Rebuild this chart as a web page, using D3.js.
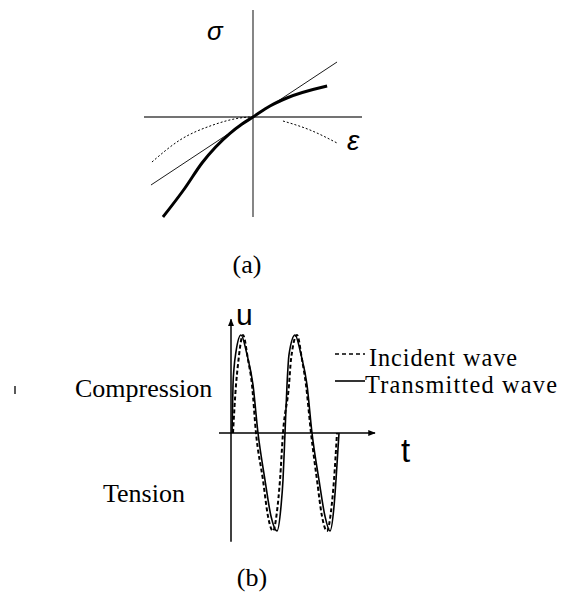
<!DOCTYPE html>
<html>
<head>
<meta charset="utf-8">
<script src="https://cdn.jsdelivr.net/npm/d3@7"></script>
<style>
  body { margin: 0; background: #fff; }
  svg { display: block; }
</style>
</head>
<body>
<div id="chart"></div>
<script>
// panel (a): stress-strain sketch, values in (eps, sigma) units
const epsAxis = [-1, 1]
const sigAxis = [-1, 1.07]
const linearLine = [[-0.936, -0.68], [0.771, 0.55]]
const thickCurve = [[-0.826, -1.0], [-0.624, -0.71], [-0.468, -0.46], [-0.211, -0.163], [-0.1, -0.07], [0, 0], [0.156, 0.11], [0.31, 0.19], [0.68, 0.31]]
const dottedLeft = [[-0.927, -0.45], [-0.67, -0.23], [-0.367, -0.08], [-0.12, -0.01], [-0.03, 0]]
const dottedRight = [[0.275, -0.04], [0.523, -0.13], [0.771, -0.26]]

// panel (b): waves, values in (t, u) units
const tAxis = [-1.2, 14.4]
const uAxis = [-1.11, 1.16]
const transmitted = [[0.1, 0], [0.2, 0.49], [0.3, 0.66], [0.5, 0.83], [1.0, 1], [1.6, 0.8], [2.2, 0.49], [2.7, 0],
  [3.4, -0.48], [4.0, -0.85], [4.6, -1], [5.0, -0.75], [5.2, -0.48], [5.4, 0], [5.6, 0.49], [5.8, 0.8],
  [6.4, 1], [7.0, 0.8], [7.6, 0.49], [8.1, 0], [8.8, -0.48], [9.4, -0.85], [9.9, -1], [10.3, -0.75], [10.5, -0.48], [10.8, 0]]
const incident = [[0.2, 0], [0.5, 0.49], [0.7, 0.7], [1.2, 1], [1.7, 0.75], [2.1, 0.49], [2.5, 0],
  [3.2, -0.48], [3.7, -0.85], [4.2, -1], [4.6, -0.8], [4.9, -0.48], [5.2, 0], [5.8, 0.49], [6.0, 0.75],
  [6.6, 1], [7.1, 0.75], [7.5, 0.49], [8.0, 0], [8.6, -0.48], [9.1, -0.85], [9.6, -1], [10.0, -0.8], [10.3, -0.48], [10.6, 0]]
const legendItems = ["Incident wave", "Transmitted wave"]

const width = 567, height = 599
const svg = d3.select("#chart").append("svg")
  .attr("width", width).attr("height", height)

const serif = "'Liberation Serif', 'Times New Roman', serif"
const sans = "'Liberation Sans', Arial, sans-serif"

// ---- (a)
const xA = d3.scaleLinear().domain([-1, 1]).range([144, 362])
const yA = d3.scaleLinear().domain([-1, 1]).range([217, 17])
const lineA = d3.line().x(d => xA(d[0])).y(d => yA(d[1]))

const gA = svg.append("g")
gA.append("line")
  .attr("x1", xA(epsAxis[0])).attr("x2", xA(epsAxis[1]))
  .attr("y1", yA(0)).attr("y2", yA(0))
  .attr("stroke", "#444").attr("stroke-width", 1.3)
gA.append("line")
  .attr("x1", xA(0)).attr("x2", xA(0))
  .attr("y1", yA(sigAxis[0])).attr("y2", yA(sigAxis[1]))
  .attr("stroke", "#444").attr("stroke-width", 1.3)

gA.append("path").datum(linearLine)
  .attr("d", lineA).attr("fill", "none")
  .attr("stroke", "#000").attr("stroke-width", 0.9)
gA.append("path").datum(thickCurve)
  .attr("d", lineA.curve(d3.curveMonotoneX)).attr("fill", "none")
  .attr("stroke", "#000").attr("stroke-width", 3)
;[dottedLeft, dottedRight].forEach(pts => {
  gA.append("path").datum(pts)
    .attr("d", lineA.curve(d3.curveMonotoneX)).attr("fill", "none")
    .attr("stroke", "#000").attr("stroke-width", 1)
    .attr("stroke-dasharray", "2,2")
})

gA.append("text").text("σ")
  .attr("x", 207).attr("y", 40)
  .style("font-family", sans).style("font-size", "26px").style("font-style", "italic")
gA.append("text").text("ε")
  .attr("x", 347).attr("y", 150)
  .style("font-family", sans).style("font-size", "28px").style("font-style", "italic")
gA.append("text").text("(a)")
  .attr("x", 247).attr("y", 273).attr("text-anchor", "middle")
  .style("font-family", serif).style("font-size", "26px")

// ---- (b)
const xB = d3.scaleLinear().domain([0, 10]).range([231, 331])
const yB = d3.scaleLinear().domain([-1, 1]).range([531, 335])
const lineB = d3.line().x(d => xB(d[0])).y(d => yB(d[1])).curve(d3.curveMonotoneX)

const gB = svg.append("g")
svg.append("defs").append("marker")
  .attr("id", "arrow").attr("viewBox", "0 0 10 10")
  .attr("refX", 9).attr("refY", 5)
  .attr("markerWidth", 5).attr("markerHeight", 5)
  .attr("orient", "auto")
  .append("path").attr("d", "M0,1 L10,5 L0,9 Z").attr("fill", "#000")

gB.append("line")
  .attr("x1", xB(tAxis[0])).attr("x2", xB(tAxis[1]))
  .attr("y1", yB(0)).attr("y2", yB(0))
  .attr("stroke", "#000").attr("stroke-width", 1.5)
  .attr("marker-end", "url(#arrow)")
gB.append("line")
  .attr("x1", xB(0)).attr("x2", xB(0))
  .attr("y1", yB(uAxis[0])).attr("y2", yB(uAxis[1]))
  .attr("stroke", "#000").attr("stroke-width", 1.5)
  .attr("marker-end", "url(#arrow)")

gB.append("path").datum(incident)
  .attr("d", lineB).attr("fill", "none")
  .attr("stroke", "#000").attr("stroke-width", 2)
  .attr("stroke-dasharray", "4,2.5")
gB.append("path").datum(transmitted)
  .attr("d", lineB).attr("fill", "none")
  .attr("stroke", "#000").attr("stroke-width", 1.6)

// legend
const legendWidths = [148, 192]
legendItems.forEach((name, i) => {
  const y = 354 + i * 27
  gB.append("line")
    .attr("x1", 335).attr("x2", 365).attr("y1", y).attr("y2", y)
    .attr("stroke", "#000").attr("stroke-width", 1.6)
    .attr("stroke-dasharray", i === 0 ? "4,3" : null)
  gB.append("text").text(name)
    .attr("x", i === 0 ? 369 : 365).attr("y", y + 12)
    .attr("textLength", legendWidths[i]).attr("lengthAdjust", "spacing")
    .style("font-family", serif).style("font-size", "24.3px")
})

gB.append("text").text("u")
  .attr("x", 236).attr("y", 325)
  .style("font-family", sans).style("font-size", "30px")
gB.append("text").text("t")
  .attr("x", 401).attr("y", 462)
  .style("font-family", sans).style("font-size", "33px")
gB.append("text").text("Compression")
  .attr("x", 75).attr("y", 397)
  .style("font-family", serif).style("font-size", "26px")
gB.append("text").text("Tension")
  .attr("x", 103).attr("y", 502)
  .style("font-family", serif).style("font-size", "26px")
gB.append("line")
  .attr("x1", 15).attr("x2", 15).attr("y1", 386).attr("y2", 394)
  .attr("stroke", "#000").attr("stroke-width", 1.3)
gB.append("text").text("(b)")
  .attr("x", 252).attr("y", 586).attr("text-anchor", "middle")
  .style("font-family", serif).style("font-size", "26px")
</script>
</body>
</html>
